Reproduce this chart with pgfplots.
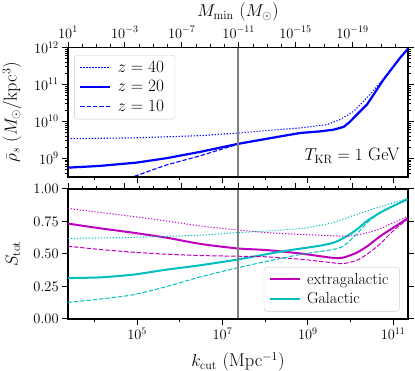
\documentclass[border=0pt]{standalone}
\usepackage{pgfplots}
\pgfplotsset{compat=1.18}
\definecolor{mpm}{rgb}{0.75,0,0.75}
\definecolor{mpc}{rgb}{0,0.75,0.75}
\newcommand\tkf{\fontsize{14.5}{17}\selectfont}
\newcommand\lbf{\fontsize{18.5}{22}\selectfont}
\newcommand\lgf{\fontsize{16}{18}\selectfont}
\pgfplotsset{
  base/.style={scale only axis, width=340pt, anchor=south west,
    xmin=3.379, xmax=11.348, tick align=outside,
    major tick length=5.8pt, minor tick length=3.3pt,
    axis line style={line width=1.2pt},
    tick style={black, line width=1pt},
    minor tick style={black, line width=0.7pt},
    tick label style={font=\tkf},
    label style={font=\lbf},
  },
  kticks/.style={xtick={5,7,9,11}, minor xtick={4,6,8,10}},
  mticks/.style={xtick={3.379,4.712,6.046,7.379,8.712,10.046},
    minor xtick={3.712,4.046,4.379,5.046,5.379,5.712,6.379,6.712,7.046,7.712,8.046,8.379,9.046,9.379,9.712,10.379,10.712,11.046}},
  leg/.style={draw=black!20, rounded corners=3pt, fill=white, font=\lgf,
    inner xsep=5pt, inner ysep=4pt, row sep=3pt,
    nodes={inner xsep=6pt}},
}
\begin{document}
\begin{tikzpicture}[x=1pt,y=1pt]
\path[use as bounding box] (0,0) rectangle (415,371);
% ---------------- top panel ----------------
\begin{axis}[base, at={(68pt,194pt)}, height=129.5pt,
  ymin=8.49, ymax=12, kticks, xticklabels={}, xtick pos=left,
  ytick={9,10,11,12}, yticklabels={$10^{9}$,$10^{10}$,$10^{11}$,$10^{12}$},
  minor ytick={8.602,8.699,8.778,8.845,8.903,8.954,
    9.301,9.477,9.602,9.699,9.778,9.845,9.903,9.954,
    10.301,10.477,10.602,10.699,10.778,10.845,10.903,10.954,
    11.301,11.477,11.602,11.699,11.778,11.845,11.903,11.954},
  ytick pos=both,
  ylabel={$\bar{\rho}_s$ ($M_\odot$/kpc$^3$)},
  ylabel style={at={(axis description cs:-0.1647,0.5)}, anchor=center},
  legend style={leg, at={(0.018,0.942)}, anchor=north west},
  legend cell align=left,
  legend image code/.code={\draw[#1] (0pt,0pt) -- (30pt,0pt);},
]
\addplot[blue, line width=1.1pt, dash pattern=on 1.2pt off 1.8pt] coordinates {
(3.372,9.527) (4.9,9.55) (6.473,9.61) (7.342,9.68) (8.047,9.75) (8.822,9.82)
(9.449,9.91) (9.762,10.05) (10.074,10.27) (10.389,10.64) (10.78,11.16) (11.171,11.72) (11.343,11.96)};
\addlegendentry{$z=40$}
\addplot[blue, line width=2.2pt] coordinates {
(3.372,8.743) (4.124,8.79) (4.986,8.88) (5.69,9.0) (6.473,9.17) (7.373,9.39) (8.04,9.527)
(8.822,9.683) (9.292,9.727) (9.604,9.773) (9.839,9.847) (9.957,9.956) (10.389,10.456)
(10.78,11.14) (11.171,11.732) (11.343,11.96)};
\addlegendentry{$z=20$}
\addplot[blue, line width=1.1pt, dash pattern=on 4.4pt off 1.9pt] coordinates {
(4.8,8.45) (4.906,8.497) (5.69,8.817) (6.473,9.063) (6.943,9.23) (7.373,9.385) (8.04,9.52)
(8.822,9.68) (9.292,9.725) (9.604,9.77) (9.839,9.845) (9.957,9.956) (10.389,10.456)
(10.78,11.14) (11.171,11.732) (11.343,11.96)};
\addlegendentry{$z=10$}
\addplot[gray, line width=1.8pt, forget plot] coordinates {(7.37,8.49) (7.37,12)};
\node[anchor=base east, inner sep=0pt, font=\fontsize{18}{21}\selectfont] at (rel axis cs:0.976,0.126) {$T_{\rm KR}=1$ GeV};
\end{axis}
\begin{axis}[base, at={(68pt,194pt)}, height=129.5pt, ymin=0, ymax=1,
  hide y axis, mticks, xtick pos=right, xticklabel pos=right,
  xticklabels={$10^{1}$,$10^{-3}$,$10^{-7}$,$10^{-11}$,$10^{-15}$,$10^{-19}$},
  xlabel={$M_{\rm min}$ ($M_\odot$)},
  xlabel style={at={(axis description cs:0.5,1.274)}, anchor=center},
]
\end{axis}
% ---------------- bottom panel ----------------
\begin{axis}[base, at={(68pt,52pt)}, height=130pt,
  ymin=0, ymax=1, kticks, xtick pos=left,
  xticklabels={$10^{5}$,$10^{7}$,$10^{9}$,$10^{11}$},
  ytick={0,0.25,0.5,0.75,1}, yticklabels={0.00,0.25,0.50,0.75,1.00},
  ytick pos=both,
  xlabel={$k_{\rm cut}$ (Mpc$^{-1}$)},
  xlabel style={at={(axis description cs:0.5,-0.3308)}, anchor=center},
  ylabel={$S_{\rm tot}$},
  ylabel style={at={(axis description cs:-0.1618,0.5)}, anchor=center},
  legend style={leg, at={(0.976,0.057)}, anchor=south east},
  legend cell align=left,
  legend image code/.code={\draw[#1] (0pt,0pt) -- (30pt,0pt);},
]
\addplot[mpm, line width=2pt, smooth, tension=0.4] coordinates {
(3.372,0.734) (4.124,0.698) (4.899,0.664) (5.698,0.625) (6.473,0.578) (7.342,0.543)
(8.047,0.530) (8.822,0.504) (9.292,0.483) (9.597,0.470) (9.832,0.472) (10.138,0.509)
(10.396,0.56) (10.701,0.638) (11.007,0.703) (11.336,0.773)};
\addlegendentry{extragalactic}
\addplot[mpc, line width=2pt, smooth, tension=0.4] coordinates {
(3.372,0.315) (4.124,0.32) (4.899,0.341) (5.698,0.38) (6.473,0.413) (7.342,0.457)
(8.43,0.522) (9.214,0.560) (9.604,0.587) (9.919,0.638) (10.154,0.69) (10.389,0.754)
(10.701,0.819) (11.014,0.871) (11.336,0.922)};
\addlegendentry{Galactic}
\addplot[mpm, line width=1pt, dash pattern=on 1.2pt off 1.8pt, smooth, tension=0.4, forget plot] coordinates {
(3.372,0.850) (4.124,0.82) (4.993,0.785) (5.768,0.75) (6.473,0.716) (7.342,0.685)
(8.047,0.664) (8.822,0.651) (9.597,0.640) (9.997,0.638) (10.396,0.664) (10.701,0.695)
(11.007,0.742) (11.336,0.788)};
\addplot[mpm, line width=1pt, dash pattern=on 4.4pt off 1.9pt, smooth, tension=0.4, forget plot] coordinates {
(3.372,0.560) (4.124,0.535) (4.899,0.514) (5.698,0.498) (6.473,0.488) (7.342,0.483)
(8.047,0.478) (8.822,0.46) (9.292,0.443) (9.597,0.432) (9.832,0.426) (10.138,0.45)
(10.396,0.50) (10.701,0.58) (11.007,0.68) (11.336,0.767)};
\addplot[mpc, line width=1pt, dash pattern=on 1.2pt off 1.8pt, smooth, tension=0.4, forget plot] coordinates {
(3.372,0.62) (4.9,0.628) (6.473,0.645) (7.342,0.664) (8.047,0.677) (8.822,0.695)
(9.214,0.716) (9.597,0.742) (9.997,0.788) (10.396,0.832) (10.772,0.871) (11.336,0.925)};
\addplot[mpc, line width=1pt, dash pattern=on 4.4pt off 1.9pt, smooth, tension=0.4, forget plot] coordinates {
(3.372,0.127) (4.124,0.153) (4.899,0.186) (5.698,0.25) (6.473,0.323) (7.342,0.393)
(8.047,0.444) (8.822,0.496) (9.597,0.535) (9.832,0.56) (10.138,0.651) (10.396,0.742)
(10.701,0.82) (11.007,0.871) (11.336,0.917)};
\addplot[gray, line width=1.8pt, forget plot] coordinates {(7.37,0) (7.37,1)};
\end{axis}
\begin{axis}[base, at={(68pt,52pt)}, height=130pt, ymin=0, ymax=1,
  hide y axis, mticks, xtick pos=right, xticklabels={},
]
\end{axis}
\end{tikzpicture}
\end{document}
